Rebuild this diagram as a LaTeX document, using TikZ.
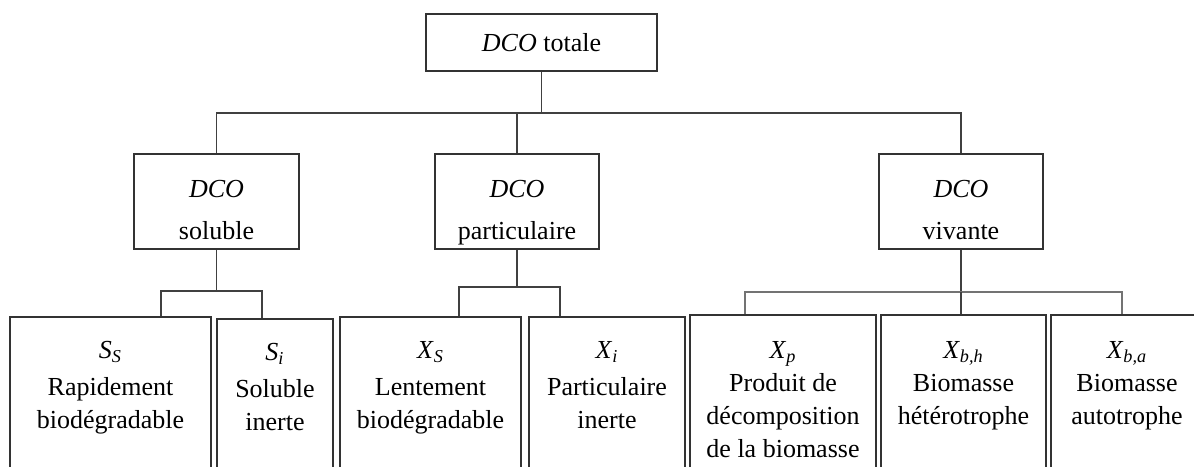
\documentclass[tikz,border=0pt]{standalone}
\usepackage{fontspec}
\setmainfont{Liberation Serif}
\usetikzlibrary{positioning}

\tikzset{
  box/.style={draw=black!80, line width=0.8pt, align=center, inner sep=0pt},
  leaf/.style={box, minimum height=100pt, anchor=north},
  leaftext/.style={anchor=north, align=center, inner sep=0pt},
  link/.style={draw=black!75, line width=0.75pt},
}

\newcommand{\dco}{\textit{DCO}}
\newcommand{\symb}[2]{\textit{#1}\textsubscript{\textit{#2}}}
\newcommand{\midtext}[1]{\rule{0pt}{20pt}\dco\\[4.5pt]#1\vphantom{p}}

\begin{document}
\begin{tikzpicture}[x=0.5pt,y=-0.5pt,font=\fontsize{13}{16.5}\selectfont]
  \useasboundingbox (0,0) rectangle (1194,466);
  \clip (0,0) rectangle (1194,466);

  % Top box
  \node[box, minimum width=115.5pt, minimum height=28.5pt] (total) at (541.5,42.5) {\dco{} totale};

  % Middle level
  \node[box, minimum width=82.5pt, minimum height=47.5pt] (soluble) at (216.5,201.5) {\midtext{soluble}};
  \node[box, minimum width=82pt, minimum height=47.5pt] (particulaire) at (517,201.5) {\midtext{particulaire}};
  \node[box, minimum width=82pt, minimum height=47.5pt] (vivante) at (961,201.5) {\midtext{vivante}};

  % Bottom level (boxes run past the lower edge)
  \node[leaf, minimum width=100.5pt] (ss) at (110.5,316) {};
  \node[leaf, minimum width=58pt] (si) at (275,318) {};
  \node[leaf, minimum width=90.5pt] (xs) at (430.5,316) {};
  \node[leaf, minimum width=78pt] (xi) at (607,316) {};
  \node[leaf, minimum width=93pt] (xp) at (783,314) {};
  \node[leaf, minimum width=82.5pt] (xbh) at (963.5,314) {};
  \node[leaf, minimum width=76pt] (xba) at (1127,314) {};

  \node[leaftext] (ss-t) at ([yshift=-12.5pt]ss.north) {\symb{S}{S}\\[2pt]Rapidement\\biodégradable};
  \node[leaftext] (si-t) at ([yshift=-12.5pt]si.north) {\symb{S}{i}\\[2pt]Soluble\\inerte};
  \node[leaftext] (xs-t) at ([yshift=-12.5pt]xs.north) {\symb{X}{S}\\[2pt]Lentement\\biodégradable};
  \node[leaftext] (xi-t) at ([yshift=-12.5pt]xi.north) {\symb{X}{i}\\[2pt]Particulaire\\inerte};
  \node[leaftext] (xp-t) at ([yshift=-13.5pt]xp.north) {\symb{X}{p}\\Produit de\\décomposition\\de la biomasse};
  \node[leaftext] (xbh-t) at ([yshift=-13.5pt]xbh.north) {\symb{X}{b,h}\\Biomasse\\hétérotrophe};
  \node[leaftext] (xba-t) at ([yshift=-13.5pt]xba.north) {\symb{X}{b,a}\\Biomasse\\autotrophe};

  % total -> middle level
  \draw[link] (total.south) -- ++(0,41) coordinate (hub);
  \draw[link] (soluble.north) |- (hub) -| (vivante.north);
  \draw[link] (particulaire.north) -- (particulaire.north |- hub);

  % soluble -> S
  \draw[link] (soluble.south) -- ++(0,41) coordinate (sbus);
  \draw[link] ([xshift=25.25pt]ss.north) |- (sbus) -| ([xshift=-6.5pt]si.north);

  % particulaire -> X
  \draw[link] (particulaire.south) -- ++(0,37) coordinate (pbus);
  \draw[link] ([xshift=14.25pt]xs.north) |- (pbus) -| ([xshift=-23.5pt]xi.north);

  % vivante -> X
  \draw[link] (vivante.south) -- ++(0,42) coordinate (vbus);
  \draw[link, draw=black!55] ([xshift=-19pt]xp.north) |- (vbus) -| ([xshift=-2.5pt]xba.north);
  \draw[link] (vbus) -- (vbus |- xbh.north);
\end{tikzpicture}
\end{document}
